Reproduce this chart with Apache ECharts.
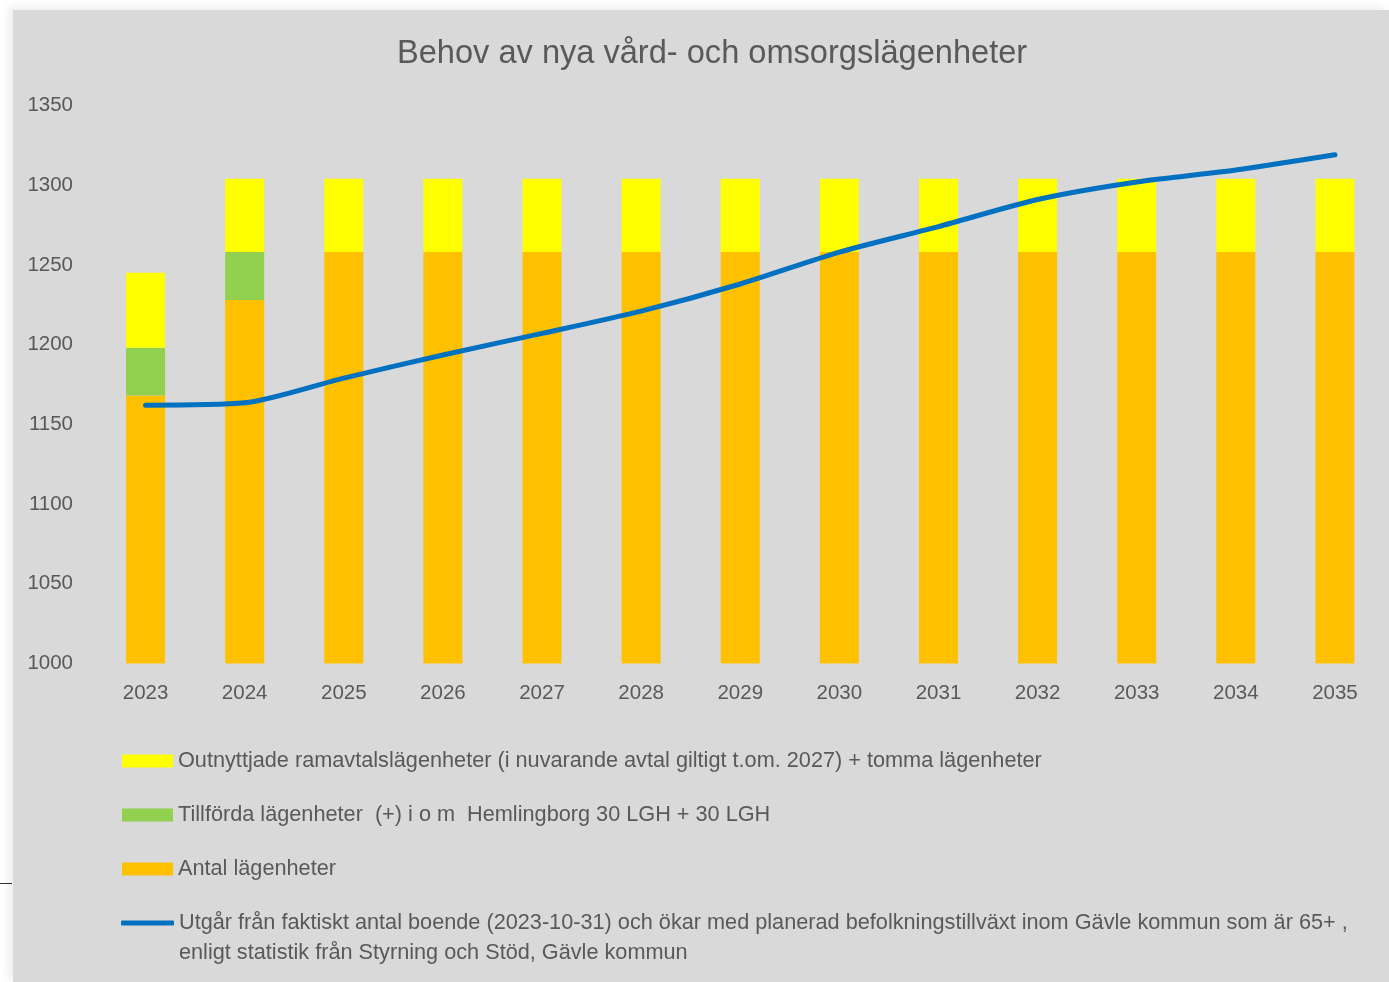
<!DOCTYPE html>
<html>
<head>
<meta charset="utf-8">
<script src="https://cdn.jsdelivr.net/npm/echarts@6/dist/echarts.min.js"></script>
<style>
  html, body { margin: 0; padding: 0; background: #ffffff; width: 1389px; height: 982px; overflow: hidden; }
  #chart { position: absolute; left: 13px; top: 10px; width: 1376px; height: 972px; background: #d9d9d9;
           box-shadow: -5px -3px 8px rgba(0,0,0,0.07); }
  #mark { position: absolute; left: 0; top: 883px; width: 12px; height: 1px; background: #333; }
</style>
</head>
<body>
<div id="mark"></div>
<div id="chart"></div>
<script>
const titleText = 'Behov av nya vård- och omsorgslägenheter';
const categories = ['2023','2024','2025','2026','2027','2028','2029','2030','2031','2032','2033','2034','2035'];
const antalLagenheter = [1168, 1228, 1258, 1258, 1258, 1258, 1258, 1258, 1258, 1258, 1258, 1258, 1258];
const tillfordaLagenheter = [30, 30, 0, 0, 0, 0, 0, 0, 0, 0, 0, 0, 0];
const outnyttjadeLagenheter = [47, 46, 46, 46, 46, 46, 46, 46, 46, 46, 46, 46, 46];
const behovLinje = [1162, 1163.5, 1179, 1193.5, 1207, 1221, 1238, 1258, 1274, 1291, 1302, 1309.5, 1319];
const yMin = 1000, yMax = 1350, yStep = 50;

const nameYellow = 'Outnyttjade ramavtalslägenheter (i nuvarande avtal giltigt t.om. 2027) + tomma lägenheter';
const nameGreen = 'Tillförda lägenheter  (+) i o m  Hemlingborg 30 LGH + 30 LGH';
const nameOrange = 'Antal lägenheter';
const nameLine = 'Utgår från faktiskt antal boende (2023-10-31) och ökar med planerad befolkningstillväxt inom Gävle kommun som är 65+ ,';
const nameLine2 = 'enligt statistik från Styrning och Stöd, Gävle kommun';

const FONT = '"Liberation Sans", Arial, sans-serif';
const TXT = '#595959';
const LEG_FS = 21.7;

const chart = echarts.init(document.getElementById('chart'), null, { renderer: 'canvas' });
chart.setOption({
  animation: false,
  backgroundColor: '#d9d9d9',
  textStyle: { fontFamily: FONT },
  title: {
    text: titleText,
    left: 384,
    top: 28,
    padding: 0,
    textStyle: { fontFamily: FONT, fontSize: 32.6, fontWeight: 'normal', color: TXT }
  },
  grid: { left: 83, right: 4.5, top: 95.4, bottom: 318.5, containLabel: false },
  xAxis: {
    type: 'category',
    data: categories,
    axisLine: { show: false },
    axisTick: { show: false },
    axisLabel: { color: TXT, fontSize: 20.5, fontFamily: FONT, margin: 19 },
    splitLine: { show: false }
  },
  yAxis: {
    type: 'value',
    min: yMin, max: yMax, interval: yStep,
    axisLine: { show: false },
    axisTick: { show: false },
    splitLine: { show: false },
    axisLabel: { color: TXT, fontSize: 20.5, fontFamily: FONT, margin: 23,
                 formatter: function (v) { return String(v); } }
  },
  legend: [
    {
      orient: 'vertical',
      left: 109, top: 736,
      padding: 0,
      itemWidth: 51, itemHeight: 13,
      itemGap: 24,
      selectedMode: false,
      textStyle: { color: TXT, fontSize: LEG_FS, fontFamily: FONT, lineHeight: 30 },
      data: [
        { name: nameYellow, icon: 'rect' },
        { name: nameGreen, icon: 'rect' },
        { name: nameOrange, icon: 'rect' }
      ]
    },
    {
      orient: 'vertical',
      left: 108, top: 868,
      padding: 0,
      itemWidth: 53, itemHeight: 5,
      selectedMode: false,
      formatter: function (n) { return '\n' + n + '\n' + nameLine2; },
      textStyle: { color: TXT, fontSize: LEG_FS, fontFamily: FONT, lineHeight: 30 },
      data: [ { name: nameLine, icon: 'roundRect', itemStyle: { color: '#0070C0' } } ]
    }
  ],
  series: [
    {
      name: nameOrange, type: 'bar', stack: 'total', barWidth: 39,
      itemStyle: { color: '#FFC000' },
      data: antalLagenheter
    },
    {
      name: nameGreen, type: 'bar', stack: 'total', barWidth: 39,
      itemStyle: { color: '#92D050' },
      data: tillfordaLagenheter
    },
    {
      name: nameYellow, type: 'bar', stack: 'total', barWidth: 39,
      itemStyle: { color: '#FFFF00' },
      data: outnyttjadeLagenheter
    },
    {
      name: nameLine, type: 'line', smooth: 0.25,
      symbol: 'none',
      lineStyle: { color: '#0070C0', width: 5, cap: 'round', join: 'round' },
      itemStyle: { color: '#0070C0' },
      data: behovLinje,
      z: 5
    }
  ]
});
</script>
</body>
</html>
